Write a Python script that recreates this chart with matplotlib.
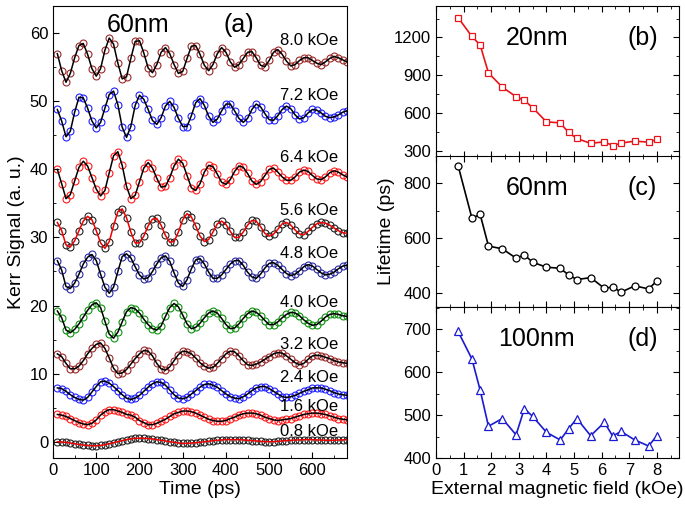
import numpy as np
import matplotlib
matplotlib.use('Agg')
import matplotlib.pyplot as plt
from matplotlib.ticker import MultipleLocator

plt.rcParams['font.family'] = ['Liberation Sans', 'DejaVu Sans']
plt.rcParams['font.size'] = 12

# ---- panel (a): Kerr signal vs time, sampled every 10 ps ----
time_ps = list(range(10, 690, 10))

sig_80 = [57.0, 54.5, 52.8, 54.1, 56.4, 58.2, 58.5, 56.9, 54.8, 53.7,
          54.8, 57.5, 59.3, 58.4, 55.6, 53.3, 53.6, 56.3, 58.8, 58.9,
          57.1, 54.9, 54.2, 55.4, 57.2, 57.9, 57.0, 55.4, 54.1, 54.4,
          56.3, 58.1, 58.2, 56.9, 55.3, 54.5, 55.4, 57.0, 57.9, 57.2,
          55.8, 55.0, 55.4, 56.3, 57.2, 57.3, 56.4, 55.3, 55.1, 56.0,
          57.2, 57.6, 56.9, 55.9, 55.2, 55.4, 56.0, 56.4, 56.4, 56.0,
          55.6, 55.4, 55.8, 56.3, 56.6, 56.4, 56.1, 55.8]
sig_72 = [48.8, 47.1, 44.8, 45.6, 48.4, 50.6, 50.5, 49.0, 47.1, 46.1,
          46.9, 49.0, 51.0, 51.5, 49.5, 46.2, 44.7, 46.3, 49.4, 50.9,
          50.3, 48.8, 47.2, 46.6, 47.6, 49.3, 50.0, 49.1, 47.5, 46.3,
          46.3, 47.9, 49.8, 50.4, 49.4, 47.8, 46.9, 47.4, 48.6, 49.6,
          49.6, 48.6, 47.5, 46.9, 47.5, 48.8, 49.6, 49.2, 48.2, 47.3,
          47.2, 47.9, 48.8, 49.3, 48.9, 48.0, 47.4, 47.6, 48.3, 48.8,
          48.7, 48.3, 47.8, 47.6, 47.7, 48.0, 48.4, 48.6]
sig_64 = [40.0, 37.9, 35.7, 36.3, 38.3, 40.3, 41.2, 40.5, 38.8, 37.1,
          36.1, 36.9, 39.5, 42.0, 42.6, 40.6, 37.5, 35.7, 36.2, 38.2,
          40.2, 41.0, 40.2, 38.7, 37.4, 37.5, 38.8, 40.5, 41.5, 40.9,
          39.1, 37.3, 36.9, 37.9, 39.6, 40.6, 40.4, 39.3, 38.1, 37.8,
          38.5, 39.7, 40.5, 40.3, 39.4, 38.3, 37.8, 38.2, 39.1, 40.0,
          40.2, 39.6, 38.9, 38.4, 38.4, 38.9, 39.6, 39.9, 39.7, 39.1,
          38.6, 38.5, 38.9, 39.5, 39.8, 39.6, 39.2, 38.9]
sig_56 = [32.2, 31.0, 28.9, 28.6, 29.5, 31.0, 32.4, 33.1, 32.6, 31.0,
          29.2, 28.4, 29.4, 31.7, 33.8, 34.2, 32.9, 30.8, 29.2, 29.2,
          30.2, 31.7, 32.7, 32.8, 31.8, 30.3, 29.3, 29.4, 30.8, 32.6,
          33.5, 33.0, 31.7, 30.2, 29.4, 29.7, 30.8, 32.0, 32.4, 31.9,
          30.9, 30.0, 30.0, 30.8, 31.8, 32.5, 32.4, 31.6, 30.6, 30.2,
          30.5, 31.2, 32.0, 32.2, 31.8, 31.1, 30.5, 30.4, 30.9, 31.5,
          32.0, 32.2, 32.1, 31.8, 31.4, 31.0, 30.7, 30.6]
sig_48 = [26.6, 25.2, 22.8, 22.5, 23.3, 24.6, 26.1, 27.1, 27.5, 26.6,
          24.6, 22.7, 21.8, 22.7, 25.0, 27.2, 27.6, 27.0, 25.7, 24.5,
          23.9, 24.1, 25.0, 26.1, 27.0, 27.3, 26.5, 24.8, 23.3, 22.8,
          23.8, 25.4, 26.7, 26.9, 26.1, 24.9, 24.0, 24.0, 24.5, 25.3,
          26.1, 26.6, 26.6, 25.9, 24.9, 24.2, 24.0, 24.6, 25.5, 26.2,
          26.3, 25.9, 25.3, 24.7, 24.4, 24.6, 25.1, 25.7, 26.0, 25.8,
          25.3, 24.8, 24.5, 24.6, 24.9, 25.4, 25.8, 25.9]
sig_40 = [19.2, 18.2, 16.4, 16.0, 16.5, 17.3, 18.3, 19.3, 20.1, 20.4,
          19.7, 17.7, 15.8, 15.2, 16.1, 17.6, 19.1, 19.7, 19.5, 18.9,
          18.0, 17.2, 16.6, 16.4, 17.0, 18.4, 19.7, 20.3, 19.8, 18.6,
          17.3, 16.6, 16.8, 17.4, 18.2, 18.9, 19.2, 18.9, 18.1, 17.2,
          16.6, 16.7, 17.3, 18.1, 18.8, 19.2, 19.0, 18.5, 17.8, 17.2,
          17.2, 17.6, 18.2, 18.7, 19.0, 18.9, 18.5, 17.9, 17.4, 17.1,
          17.2, 17.7, 18.3, 18.7, 18.8, 18.7, 18.5, 18.4]
sig_32 = [12.9, 12.5, 11.5, 10.7, 10.7, 11.1, 11.9, 12.9, 13.7, 14.3,
          14.5, 13.7, 12.3, 10.8, 10.0, 10.1, 10.6, 11.4, 12.2, 12.9,
          13.4, 13.3, 12.6, 11.5, 10.7, 10.5, 11.0, 11.9, 12.8, 13.3,
          13.2, 12.9, 12.3, 11.6, 11.1, 10.8, 10.9, 11.5, 12.2, 12.9,
          13.3, 13.2, 12.6, 11.9, 11.3, 11.2, 11.4, 11.7, 12.1, 12.5,
          12.9, 13.1, 13.0, 12.6, 12.1, 11.6, 11.3, 11.5, 12.1, 12.6,
          12.7, 12.6, 12.4, 12.2, 11.9, 11.7, 11.6, 11.5]
sig_24 = [7.9, 7.8, 7.4, 6.9, 6.5, 6.2, 6.1, 6.5, 7.3, 8.1,
          8.8, 8.9, 8.6, 8.1, 7.5, 6.9, 6.4, 6.2, 6.4, 6.8,
          7.4, 8.0, 8.5, 8.8, 8.7, 8.3, 7.6, 6.9, 6.4, 6.3,
          6.5, 7.0, 7.5, 8.0, 8.4, 8.5, 8.3, 8.0, 7.5, 7.0,
          6.6, 6.4, 6.3, 6.6, 7.0, 7.5, 7.9, 8.1, 8.1, 7.8,
          7.4, 7.0, 6.6, 6.5, 6.6, 6.8, 7.1, 7.4, 7.6, 7.9,
          7.9, 7.9, 7.7, 7.5, 7.2, 7.0, 6.9, 6.8]
sig_16 = [4.0, 3.9, 3.7, 3.4, 3.1, 2.8, 2.6, 2.5, 2.7, 3.2,
          3.9, 4.4, 4.7, 4.7, 4.5, 4.3, 4.0, 3.9, 3.6, 3.1,
          2.8, 2.5, 2.5, 2.7, 3.0, 3.3, 3.7, 4.1, 4.3, 4.5,
          4.5, 4.4, 4.2, 3.9, 3.6, 3.3, 3.1, 3.0, 3.0, 3.1,
          3.4, 3.6, 3.9, 4.1, 4.2, 4.2, 4.1, 3.9, 3.6, 3.4,
          3.2, 3.1, 3.2, 3.3, 3.4, 3.6, 3.8, 4.0, 4.1, 4.2,
          4.2, 4.1, 4.0, 3.8, 3.6, 3.4, 3.3, 3.2]
sig_08 = [0.0, -0.05, -0.1, -0.2, -0.3, -0.4, -0.5, -0.55, -0.6, -0.6,
          -0.55, -0.45, -0.3, -0.15, 0.0, 0.15, 0.3, 0.4, 0.5, 0.5,
          0.5, 0.45, 0.4, 0.3, 0.2, 0.1, 0.0, -0.1, -0.2, -0.25,
          -0.25, -0.2, -0.15, -0.1, 0.0, 0.05, 0.15, 0.2, 0.25, 0.3,
          0.3, 0.3, 0.3, 0.25, 0.2, 0.15, 0.1, 0.05, 0.0, 0.0,
          0.0, 0.05, 0.1, 0.15, 0.2, 0.25, 0.25, 0.3, 0.3, 0.3,
          0.25, 0.25, 0.2, 0.2, 0.2, 0.25, 0.25, 0.3]

field_labels = ['8.0 kOe', '7.2 kOe', '6.4 kOe', '5.6 kOe', '4.8 kOe',
                '4.0 kOe', '3.2 kOe', '2.4 kOe', '1.6 kOe', '0.8 kOe']
label_y = [59.0, 50.8, 41.8, 33.9, 27.7, 20.5, 14.3, 9.4, 5.2, 1.5]

# ---- panels (b)-(d): lifetime vs field ----
field = [0.8, 1.3, 1.6, 1.9, 2.4, 2.9, 3.2, 3.5, 4.0, 4.5,
         4.8, 5.1, 5.6, 6.1, 6.4, 6.7, 7.2, 7.7, 8.0]
life_20 = [1358, 1208, 1139, 918, 805, 729, 700, 642, 529, 521,
           445, 397, 358, 371, 339, 360, 376, 368, 389]
life_60 = [865, 674, 687, 572, 562, 528, 540, 513, 495, 491,
           467, 450, 457, 418, 423, 404, 427, 416, 445]
life_100 = [695, 631, 558, 474, 492, 454, 515, 497, 460, 442,
            468, 492, 452, 483, 451, 462, 442, 428, 452]

traces = [sig_80, sig_72, sig_64, sig_56, sig_48, sig_40, sig_32, sig_24, sig_16, sig_08]
circ_colors = ['#9a2a2a', '#2020ff', '#ff1a1a', '#222222', '#2a2aa0',
               '#109010', '#9a2a2a', '#2020ff', '#ff1a1a', '#222222']
line_colors = ['black', 'black', 'black', '#ee0000', 'black',
               'black', 'black', 'black', 'black', '#ee0000']

fig = plt.figure(figsize=(6.85, 5.11), dpi=100)

ax = fig.add_axes([0.0774, 0.1037, 0.4292, 0.8845])
for sig, cc, lc in zip(traces, circ_colors, line_colors):
    ax.plot(time_ps, sig, 'o', ms=5, mfc='none', mec=cc, mew=0.8, zorder=2)
    ax.plot(time_ps, sig, '-', color=lc, lw=1.1, zorder=3)
for lab, yy in zip(field_labels, label_y):
    ax.text(660, yy, lab, ha='right', va='center', fontsize=12)
ax.text(0.289, 0.958, '60nm', transform=ax.transAxes, ha='center', va='center', fontsize=18)
ax.text(0.633, 0.958, '(a)', transform=ax.transAxes, ha='center', va='center', fontsize=18)
ax.set_xlim(0, 680)
ax.set_ylim(-2.4, 64)
ax.xaxis.set_major_locator(MultipleLocator(100))
ax.xaxis.set_minor_locator(MultipleLocator(50))
ax.yaxis.set_major_locator(MultipleLocator(10))
ax.yaxis.set_minor_locator(MultipleLocator(5))
ax.tick_params(which='both', direction='in', labelsize=12)
ax.tick_params(which='major', length=4)
ax.tick_params(which='minor', length=2.5)
ax.set_xlabel('Time (ps)', fontsize=14, labelpad=2)
ax.set_ylabel('Kerr Signal (a. u.)', fontsize=14, labelpad=3)

panel_specs = [
    (0.6928, life_20, '#e8141a', 's', 4.5, '20nm', '(b)', (250, 1450), 300, 150),
    (0.3992, life_60, 'black', 'o', 5.0, '60nm', '(c)', (350, 900), 200, 100),
    (0.1037, life_100, '#1a1ad0', '^', 6.0, '100nm', '(d)', (400, 752), 100, 50),
]
for bottom, life, col, mk, ms, name, tag, ylim, major, minor in panel_specs:
    bx = fig.add_axes([0.6365, bottom, 0.3547, 0.2955])
    bx.plot(field, life, '-', color=col, lw=1.2, marker=mk, ms=ms,
            mfc='white', mec=col, mew=0.9)
    bx.text(0.415, 0.79, name, transform=bx.transAxes, ha='center', va='center', fontsize=18)
    bx.text(0.85, 0.79, tag, transform=bx.transAxes, ha='center', va='center', fontsize=18)
    bx.set_xlim(0, 8.8)
    bx.set_ylim(*ylim)
    bx.xaxis.set_major_locator(MultipleLocator(1))
    bx.xaxis.set_minor_locator(MultipleLocator(0.5))
    bx.yaxis.set_major_locator(MultipleLocator(major))
    bx.yaxis.set_minor_locator(MultipleLocator(minor))
    bx.tick_params(which='both', direction='in', top=True, right=True, labelsize=12)
    bx.tick_params(which='major', length=4)
    bx.tick_params(which='minor', length=2.5)
    if tag == '(c)':
        bx.set_ylabel('Lifetime (ps)', fontsize=14, labelpad=6)
    if tag == '(d)':
        bx.set_xlabel('External magnetic field (kOe)', fontsize=14, labelpad=2)
    else:
        bx.tick_params(labelbottom=False)

plt.savefig('out.png', dpi=100)
